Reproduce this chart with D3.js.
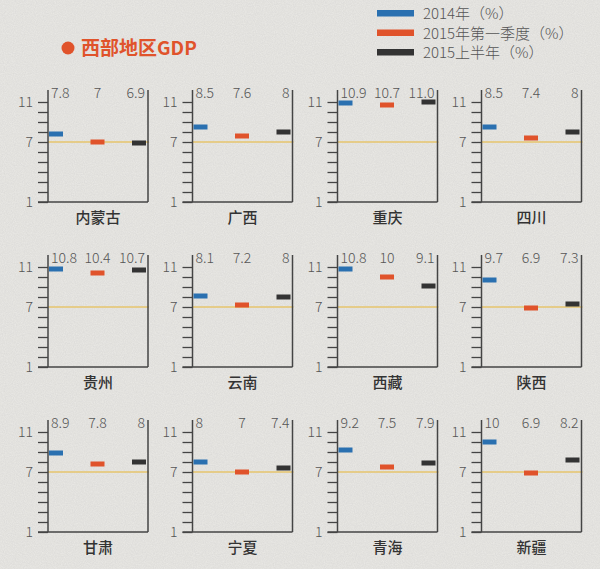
<!DOCTYPE html>
<html><head><meta charset="utf-8">
<script src="https://cdn.jsdelivr.net/npm/d3@7"></script>
<style>
html,body{margin:0;padding:0;background:#e9e8e5;}
svg{display:block;}
text{font-family:"Noto Sans CJK SC","Noto Sans",sans-serif;}
</style></head>
<body>
<svg id="chart" width="600" height="569"></svg>
<script>
const provinces = ['内蒙古','广西','重庆','四川','贵州','云南','西藏','陕西','甘肃','宁夏','青海','新疆'];
const v2014   = ['7.8','8.5','10.9','8.5','10.8','8.1','10.8','9.7','8.9','8','9.2','10'];
const v2015q1 = ['7','7.6','10.7','7.4','10.4','7.2','10','6.9','7.8','7','7.5','6.9'];
const v2015h1 = ['6.9','8','11.0','8','10.7','8','9.1','7.3','8','7.4','7.9','8.2'];
const seriesNames = ['2014年（%）','2015年第一季度（%）','2015上半年（%）'];
const seriesColors = ['#2a70b0','#e0532b','#333333'];
const yTickLabels = [1, 7, 11];
const yTicks = [1,2,3,4,5,6,7,8,9,10,11];
const refValue = 7;
const title = '西部地区GDP';

const svg = d3.select('#chart');
const defs = svg.append('defs');
const f = defs.append('filter').attr('id','noise').attr('x',0).attr('y',0).attr('width','100%').attr('height','100%');
f.append('feTurbulence').attr('type','fractalNoise').attr('baseFrequency',0.9).attr('numOctaves',2).attr('seed',3).attr('result','n');
f.append('feColorMatrix').attr('type','matrix').attr('values','0 0 0 0 0.35  0 0 0 0 0.35  0 0 0 0 0.33  0 0 0 0.22 0');
svg.append('rect').attr('width',600).attr('height',569).attr('fill','#eae9e6');
svg.append('rect').attr('width',600).attr('height',569).attr('filter','url(#noise)').attr('opacity',0.9);

// title
svg.append('circle').attr('cx',68).attr('cy',48).attr('r',6.5).attr('fill','#e0532b');
svg.append('text').attr('x',81).attr('y',55).attr('fill','#e0532b')
  .attr('font-size',19).attr('font-weight',700).text(title);

// legend
const lg = svg.append('g');
seriesNames.forEach((s,i)=>{
  lg.append('rect').attr('x',377).attr('y',10+i*19.5).attr('width',37).attr('height',6.5).attr('fill',seriesColors[i]);
  lg.append('text').attr('x',423).attr('y',19+i*19.5).attr('font-size',15).attr('fill','#555').attr('font-weight',300).text(s);
});

const series = [v2014, v2015q1, v2015h1];
const colX = [48, 192.5, 337.5, 481.5];
const rowB = [202, 367, 532];
const pw = 100;

provinces.forEach((p, idx)=>{
  const c = idx % 4, r = Math.floor(idx/4);
  const x0 = colX[c], yb = rowB[r];
  const g = svg.append('g');
  const y = d3.scaleLinear().domain([1,11]).range([yb, yb-100]);
  const x = d3.scalePoint().domain([0,1,2]).range([x0+8, x0+pw-9]);

  g.append('line').attr('x1',x0).attr('x2',x0+pw+1).attr('y1',y(refValue)).attr('y2',y(refValue))
    .attr('stroke','#e6c46c').attr('stroke-width',1.6);

  const ax = d3.axisLeft(y).tickValues(yTicks).tickSize(10).tickPadding(5)
    .tickFormat(d => yTickLabels.includes(d) ? d : '');
  const axg = g.append('g').attr('transform',`translate(${x0},0)`).call(ax);
  axg.select('.domain').remove();
  axg.selectAll('line').attr('stroke','#444').attr('stroke-width',1.3);
  axg.selectAll('text').attr('fill','#555').attr('font-size',14).attr('font-weight',300)
    .style('font-family','"Noto Sans CJK SC",sans-serif');
  g.append('line').attr('x1',x0).attr('x2',x0).attr('y1',yb-112).attr('y2',yb).attr('stroke','#444').attr('stroke-width',1.5);
  g.append('line').attr('x1',x0+pw).attr('x2',x0+pw).attr('y1',yb-112).attr('y2',yb).attr('stroke','#444').attr('stroke-width',1.5);
  g.append('line').attr('x1',x0-10).attr('x2',x0+pw).attr('y1',yb).attr('y2',yb).attr('stroke','#444').attr('stroke-width',1.5);

  series.forEach((s,i)=>{
    const v = +s[idx];
    g.append('rect').attr('x',x(i)-7).attr('y',y(v)-2.5).attr('width',14).attr('height',5)
      .attr('fill',seriesColors[i]);
    const anchor = ['start','middle','end'][i];
    const tx = i===0 ? x0+3 : (i===1 ? x(1) : x0+pw-3);
    g.append('text').attr('x',tx).attr('y',yb-104).attr('text-anchor',anchor)
      .attr('font-size',14).attr('font-weight',300).attr('fill','#555').text(s[idx]);
  });

  g.append('text').attr('x',x0+pw/2).attr('y',yb+21).attr('text-anchor','middle')
    .attr('font-size',15).attr('font-weight',500).attr('fill','#333').text(p);
});
</script>
</body></html>
